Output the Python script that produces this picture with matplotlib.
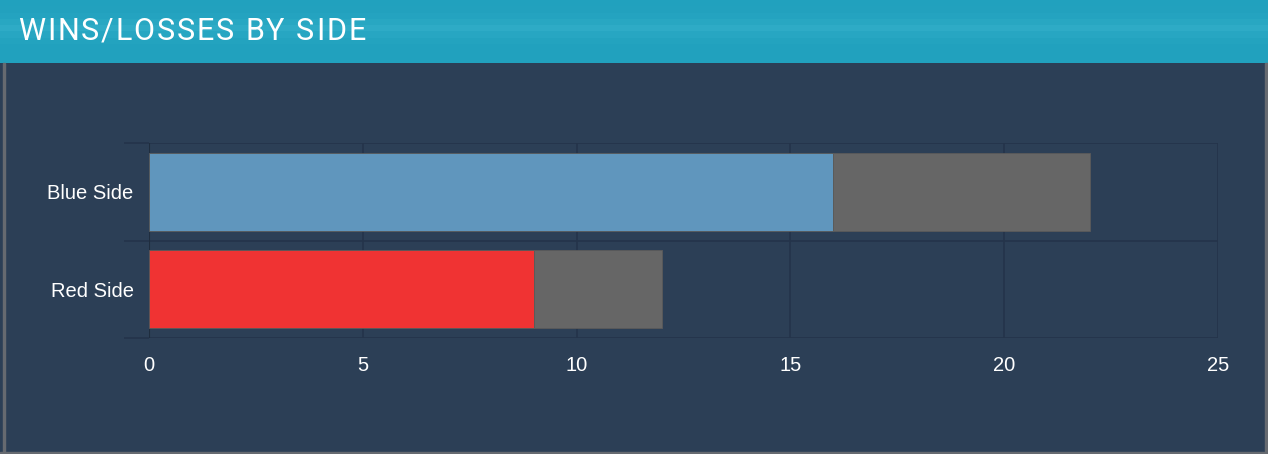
import matplotlib.pyplot as plt
from matplotlib.patches import Rectangle
from matplotlib.colors import LinearSegmentedColormap
import numpy as np

# data
sides = ["Blue Side", "Red Side"]
wins = [16, 9]
losses = [6, 3]
win_colors = ["#6096bd", "#f03333"]
loss_color = "#666666"
title = "WINS/LOSSES BY SIDE"

W, H = 1268, 454
bg = "#2c3f56"
grid_col = "#24344a"

fig = plt.figure(figsize=(W / 100, H / 100), dpi=100)
fig.patch.set_facecolor(bg)

# header band with a slight sheen
header = fig.add_axes([0, 1 - 63 / H, 1, 63 / H])
grad = np.array([0.0, 0.1, 0.3, 0.6, 1.0, 0.5, 0.2, 0.05, 0.0, 0.0])[:, None]
header.imshow(grad, aspect="auto", extent=[0, 1, 0, 1],
              cmap=LinearSegmentedColormap.from_list("hdr", ["#21a1be", "#2eabc6"]))
header.set_axis_off()

# title with letter spacing, placed one character at a time
renderer = fig.canvas.get_renderer()
title_kw = dict(color="white", fontsize=22, family="Roboto", va="center", ha="left")


def text_width(s):
    t = fig.text(0, 0, s, **title_kw)
    w = t.get_window_extent(renderer).width
    t.remove()
    return w


spacing = 1.9
ref_w = text_width("I")
x0 = 18
for i, ch in enumerate(title):
    if ch == " ":
        continue
    xpix = x0 + (text_width(title[:i] + "I") - ref_w if i else 0) + i * spacing
    fig.text(xpix / W, 1 - 31 / H, ch, **title_kw)

# borders of the panel
fig.patches.append(Rectangle((3 / W, 0), 2 / W, 1 - 63 / H, transform=fig.transFigure,
                             color="#666a70", zorder=5))
fig.patches.append(Rectangle((1265 / W, 0), 3 / W, 1 - 63 / H, transform=fig.transFigure,
                             color="#666a70", zorder=5))
fig.patches.append(Rectangle((0, 0), 1, 2 / H, transform=fig.transFigure,
                             color="#666a70", zorder=5))

ax = fig.add_axes([149 / W, 1 - 338 / H, (1218 - 149) / W, (338 - 143) / H])
ax.set_facecolor(bg)

y = np.arange(len(sides))
ax.barh(y, wins, height=0.8, color=win_colors, edgecolor="#5a5a5a", linewidth=0.6, zorder=3)
ax.barh(y, losses, left=wins, height=0.8, color=loss_color, edgecolor="#5a5a5a",
        linewidth=0.6, zorder=3)

ax.set_xlim(0, 25)
ax.set_ylim(1.5, -0.5)
ax.set_xticks([0, 5, 10, 15, 20, 25])
ax.set_yticks(y)
ax.set_yticklabels(sides)
ax.set_yticks([-0.5, 0.5, 1.5], minor=True)

ax.grid(axis="x", color=grid_col, linewidth=1.2, zorder=1)
ax.grid(axis="y", which="minor", color=grid_col, linewidth=1.2, zorder=1)
for s in ax.spines.values():
    s.set_visible(False)
ax.axvline(0, color="#1f2d3e", linewidth=1.5, zorder=2)

ax.tick_params(axis="x", colors="white", labelsize=14.5, length=0, pad=13)
ax.tick_params(axis="y", which="major", colors="white", labelsize=14.5, length=0, pad=11)
ax.tick_params(axis="y", which="minor", color=grid_col, length=18, width=1.2)
for lab in ax.get_xticklabels() + ax.get_yticklabels():
    lab.set_family(["Liberation Sans", "DejaVu Sans"])

fig.savefig("out.png", dpi=100, facecolor=bg)
